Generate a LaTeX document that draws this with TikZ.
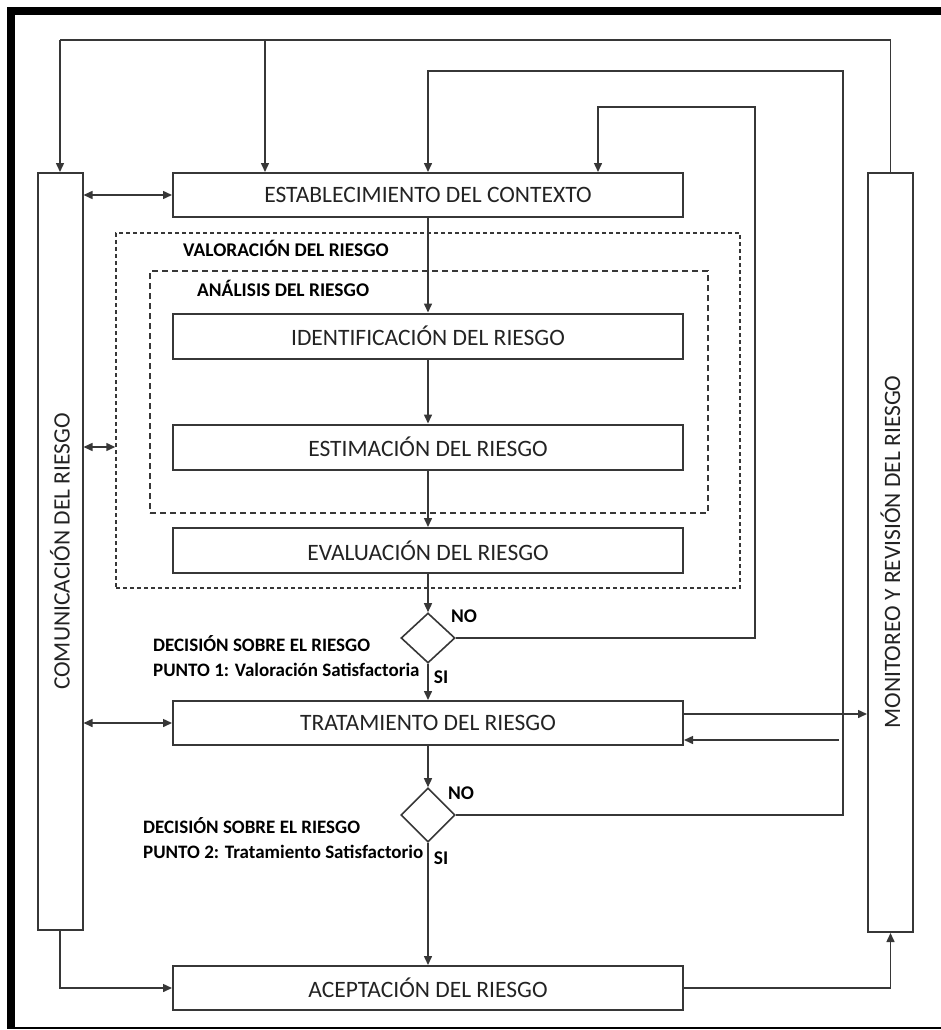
\documentclass[tikz,border=0pt]{standalone}
\usepackage{fontspec}
\setmainfont{Carlito}
\usetikzlibrary{shapes.geometric,arrows.meta}
\definecolor{ln}{RGB}{55,55,55}
\definecolor{tx}{RGB}{35,35,35}
\begin{document}
\begin{tikzpicture}[x=1pt,y=-1pt,
 box/.style={draw=ln,line width=2pt,minimum width=510pt,minimum height=44pt,inner sep=0pt,font=\fontsize{23.5}{25}\selectfont,text=tx},
 tall/.style={draw=ln,line width=2pt,minimum width=45pt,inner sep=0pt},
 vtext/.style={rotate=90,font=\fontsize{23.5}{25}\selectfont,text=tx,inner sep=0pt},
 dia/.style={draw=ln,diamond,line width=1.6pt,minimum width=54pt,minimum height=50pt,inner sep=0pt},
 lbl/.style={font=\bfseries\fontsize{19.4}{25}\selectfont,text=black,inner sep=0pt},
 declbl/.style={font=\bfseries\fontsize{19}{25}\selectfont,text=black,inner sep=0pt,align=left,anchor=west},
 conn/.style={draw=ln,line width=1.5pt},
 arr/.style={conn,-{Triangle[length=9pt,width=8pt]}},
 darr/.style={conn,{Triangle[length=9pt,width=8pt]}-{Triangle[length=9pt,width=8pt]}},
 dashA/.style={draw=ln,line width=1.5pt,dash pattern=on 4pt off 3pt,inner sep=0pt},
 dashB/.style={draw=ln,line width=1.5pt,dash pattern=on 6pt off 4pt,inner sep=0pt},
]
\useasboundingbox (0,0) rectangle (941,1030);
% frame
\fill[black] (7,7) rectangle (941,15);
\fill[black] (7,7) rectangle (15,1029);
\draw[black,line width=1.5pt] (7,1028) -- (941,1028);

% dashed groups
\node[dashA,minimum width=624pt,minimum height=355pt] (val) at (428,410.5) {};
\node[dashB,minimum width=558pt,minimum height=242pt] (ana) at (429,392) {};
\node[lbl,anchor=west] (valt) at (183,248) {VALORACIÓN DEL RIESGO};
\node[lbl,anchor=west] (anat) at (197,288) {ANÁLISIS DEL RIESGO};

% side bars
\node[tall,minimum height=757pt] (com) at (60,551.5) {};
\node[vtext] (comt) at (60,551.5) {COMUNICACIÓN DEL RIESGO};
\node[tall,minimum height=759pt] (mon) at (890.5,552.5) {};
\node[vtext] (mont) at (890.5,552) {MONITOREO Y REVISIÓN DEL RIESGO};

% main boxes
\node[box] (est) at (428,195) {ESTABLECIMIENTO DEL CONTEXTO};
\node[box,minimum height=45pt] (iden) at (428,336) {IDENTIFICACIÓN DEL RIESGO};
\node[box,minimum height=45pt] (estim) at (428,447) {ESTIMACIÓN DEL RIESGO};
\node[box,minimum height=45pt] (eval) at (428,550.5) {EVALUACIÓN DEL RIESGO};
\node[box] (trat) at (428,723) {TRATAMIENTO DEL RIESGO};
\node[box] (acep) at (428,988) {ACEPTACIÓN DEL RIESGO};

% decisions
\node[dia] (d1) at (428,638) {};
\node[dia,minimum height=54pt] (d2) at (428,815) {};
\node[lbl] (no1) at (464,616) {NO};
\node[lbl] (si1) at (441,677) {SI};
\node[lbl] (no2) at (461,793) {NO};
\node[lbl] (si2) at (441,858) {SI};
\node[declbl] (dec1) at (153,656) {DECISIÓN SOBRE EL RIESGO\\PUNTO 1: Valoración Satisfactoria};
\node[declbl] (dec2) at (143,838) {DECISIÓN SOBRE EL RIESGO\\PUNTO 2: Tratamiento Satisfactorio};

% vertical flow
\draw[arr] (est.south) -- (iden.north);
\draw[arr] (iden.south) -- (estim.north);
\draw[arr] (estim.south) -- (eval.north);
\draw[arr] (eval.south) -- (d1.north);
\draw[arr] (d1.south) -- (trat.north);
\draw[arr] (trat.south) -- (d2.north);
\draw[arr] (d2.south) -- (acep.north);

% outer top loop
\coordinate (a1) at (890.5,40);
\coordinate (a2) at (60,40);
\coordinate (a3) at (265,40);
\draw[conn] (mon.north) -- (a1) -- (a2);
\draw[arr] (a2) -- (com.north);
\draw[arr] (a3) -- (a3 |- est.north);

% NO loop 2
\coordinate (b1) at (843,815);
\coordinate (b2) at (843,71);
\coordinate (b3) at (428,71);
\draw[arr] (d2.east) -- (b1) -- (b2) -- (b3) -- (est.north);

% NO loop 1
\coordinate (c1) at (755,638);
\coordinate (c2) at (755,107);
\coordinate (c3) at (598,107);
\draw[arr] (d1.east) -- (c1) -- (c2) -- (c3) -- (c3 |- est.north);

% communication links
\draw[darr] (com.east |- est.west) -- (est.west);
\draw[darr] (com.east |- estim.west) -- (val.west |- estim.west);
\draw[darr] (com.east |- trat.west) -- (trat.west);

% monitoring links
\coordinate (t1) at (683,714);
\draw[arr] (t1) -- (t1 -| mon.west);
\coordinate (t2) at (839,740);
\draw[arr] (t2) -- (t2 -| trat.east);

% bottom
\draw[arr] (com.south) |- (acep.west);
\draw[arr] (acep.east) -| (mon.south);
\end{tikzpicture}
\end{document}
